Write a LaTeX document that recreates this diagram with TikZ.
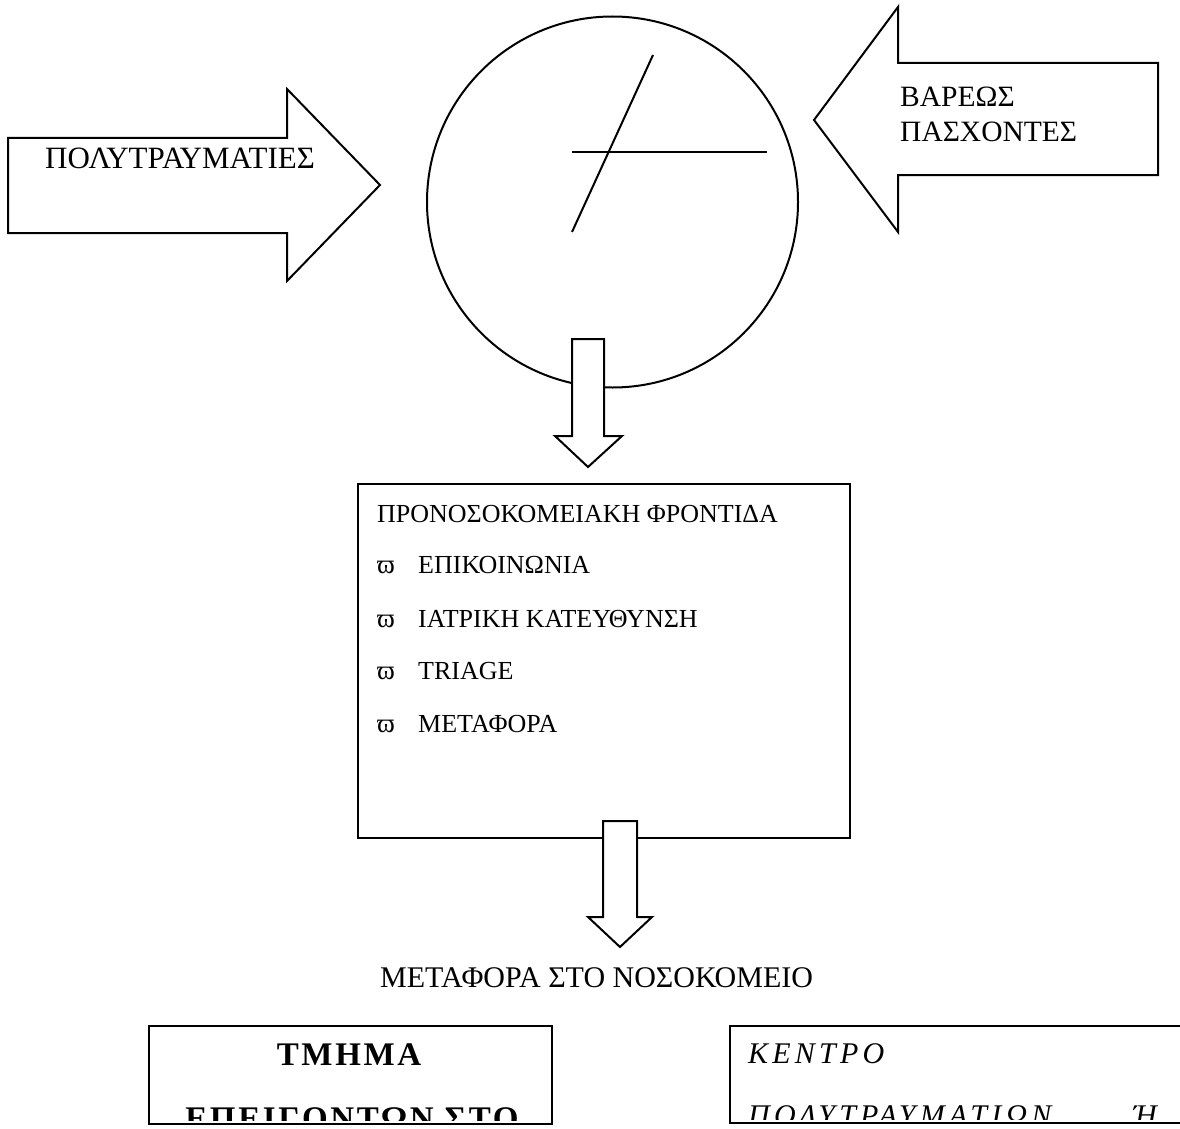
\documentclass[tikz,border=0pt]{standalone}
\usepackage{fontspec}
\setmainfont{Liberation Serif}
\begin{document}
\begin{tikzpicture}[x=1pt,y=-1pt,
  shape line/.style={draw=black,line width=2pt,line join=miter,fill=white},
  lbl/.style={inner sep=0pt,font=\fontsize{30}{32}\selectfont},
  boxlbl/.style={inner sep=0pt,font=\fontsize{26}{28}\selectfont},
  bul/.style={inner sep=0pt,font=\fontsize{27}{28}\selectfont},
  boldlbl/.style={inner sep=0pt,font=\bfseries\fontsize{33}{35}\selectfont\addfontfeature{LetterSpace=8}},
  itlbl/.style={inner sep=0pt,font=\itshape\fontsize{30}{32}\selectfont\addfontfeature{LetterSpace=14}}]
\useasboundingbox (0,0) rectangle (1180,1129);
% circle
\node[draw=black,line width=2pt,circle,minimum size=371pt,inner sep=0pt] (circ) at (612.5,202) {};
\coordinate (d1) at (653,55);
\coordinate (d2) at (572,232);
\coordinate (h1) at (572,152);
\coordinate (h2) at (767,152);
\draw[line width=2pt] (d1) -- (d2);
\draw[line width=2pt] (h1) -- (h2);
% left arrow
\draw[shape line] (8,138) -- (287,138) -- (287,89) -- (380,185) -- (287,281) -- (287,233) -- (8,233) -- cycle;
\node[lbl,anchor=base west,font=\fontsize{31}{32}\selectfont] (poly) at (45,168) {ΠΟΛΥΤΡΑΥΜΑΤΙΕΣ};
% right arrow
\draw[shape line] (1158,63) -- (898,63) -- (898,7) -- (814,120) -- (898,232) -- (898,175) -- (1158,175) -- cycle;
\node[lbl,anchor=base west,font=\fontsize{29.5}{32}\selectfont] (var) at (900,107) {ΒΑΡΕΩΣ};
\node[lbl,anchor=base west,font=\fontsize{29.5}{32}\selectfont] (pas) at (900,142) {ΠΑΣΧΟΝΤΕΣ};
% down arrow 1
\draw[shape line] (572,339) -- (604,339) -- (604,436) -- (622,436) -- (588,467) -- (555,436) -- (572,436) -- cycle;
% main box
\node[draw=black,line width=2pt,rectangle,anchor=north west,minimum width=492pt,minimum height=354pt,inner sep=0pt] (box) at (357,483) {};
\node[boxlbl,anchor=base west] (t0) at (377,522) {ΠΡΟΝΟΣΟΚΟΜΕΙΑΚΗ ΦΡΟΝΤΙΔΑ};
\node[bul,anchor=base west] (b1) at (377,573) {ϖ};
\node[boxlbl,anchor=base west] (t1) at (418,573) {ΕΠΙΚΟΙΝΩΝΙΑ};
\node[bul,anchor=base west] (b2) at (377,627) {ϖ};
\node[boxlbl,anchor=base west] (t2) at (418,627) {ΙΑΤΡΙΚΗ ΚΑΤΕΥΘΥΝΣΗ};
\node[bul,anchor=base west] (b3) at (377,679) {ϖ};
\node[boxlbl,anchor=base west] (t3) at (418,679) {TRIAGE};
\node[bul,anchor=base west] (b4) at (377,732) {ϖ};
\node[boxlbl,anchor=base west] (t4) at (418,732) {ΜΕΤΑΦΟΡΑ};
% down arrow 2
\draw[shape line] (603,821) -- (637,821) -- (637,917) -- (652,917) -- (620,947) -- (588,917) -- (603,917) -- cycle;
\node[lbl,anchor=base west] (meta) at (380,987) {ΜΕΤΑΦΟΡΑ ΣΤΟ ΝΟΣΟΚΟΜΕΙΟ};
% bottom left box
\node[draw=black,line width=2pt,rectangle,anchor=north west,minimum width=403pt,minimum height=98pt,inner sep=0pt] (tmbox) at (148,1025) {};
\begin{scope}
\clip (149,1026) rectangle (550,1120);
\node[boldlbl,anchor=base] (tm1) at (349,1065) {ΤΜΗΜΑ};
\node[boldlbl,anchor=base] (tm2) at (352,1129) {ΕΠΕΙΓΟΝΤΩΝ ΣΤΟ};
\end{scope}
% bottom right box
\node[draw=black,line width=2pt,rectangle,anchor=north west,minimum width=470pt,minimum height=97pt,inner sep=0pt] (kbox) at (729,1025) {};
\begin{scope}
\clip (730,1026) rectangle (1180,1119);
\node[itlbl,anchor=base west] (k1) at (748,1063) {ΚΕΝΤΡΟ};
\node[itlbl,anchor=base west] (k2) at (748,1125) {ΠΟΛΥΤΡΑΥΜΑΤΙΩΝ};
\node[itlbl,anchor=base west] (k3) at (1133,1125) {Ή};
\end{scope}
\end{tikzpicture}
\end{document}
